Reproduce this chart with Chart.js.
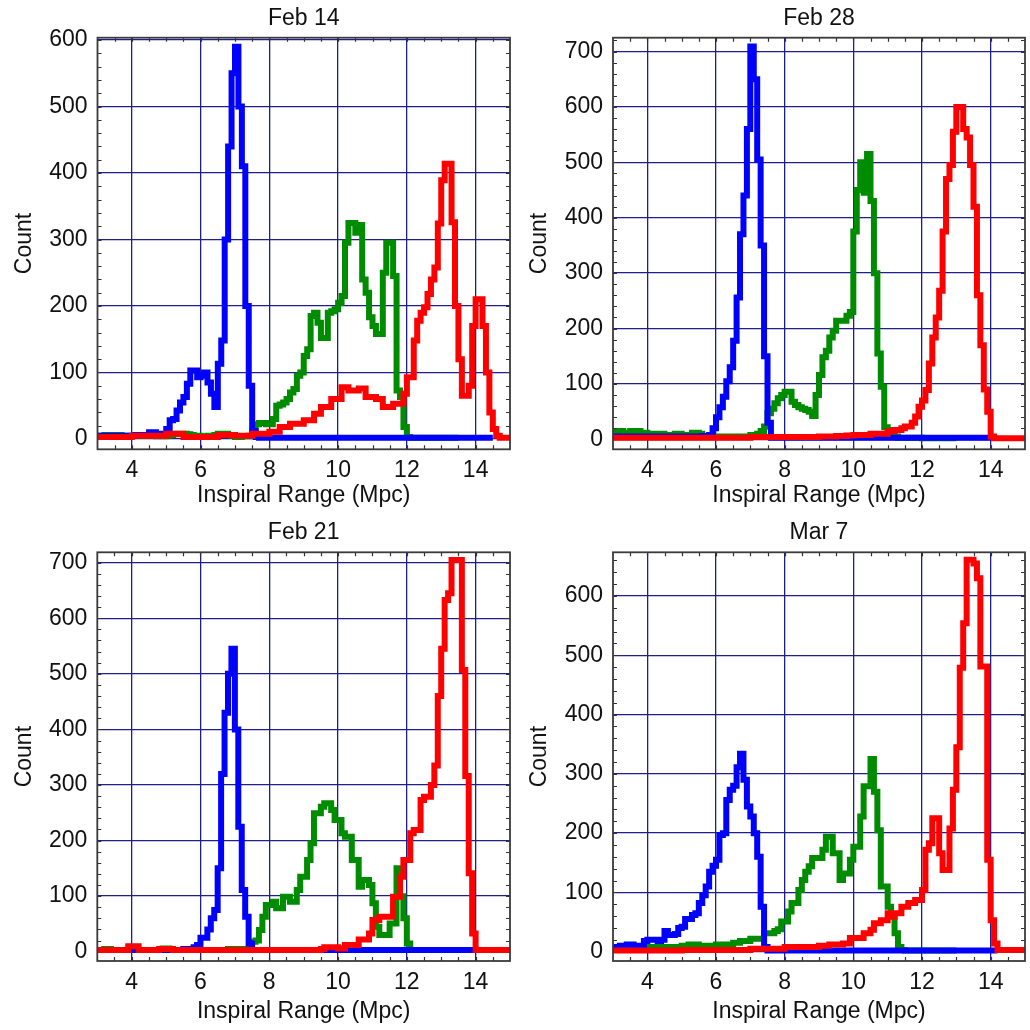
<!DOCTYPE html>
<html>
<head>
<meta charset="utf-8">
<title>Inspiral Range histograms</title>
<script src="https://cdn.jsdelivr.net/npm/chart.js@4.4.0/dist/chart.umd.min.js"></script>
<style>
  html, body { margin: 0; padding: 0; background: #fff; }
  #wrap { position: relative; width: 1030px; height: 1030px; }
  #wrap canvas { position: absolute; }
</style>
</head>
<body>
<div id="wrap">
  <canvas id="c0" width="515" height="515" style="left:0px;top:0px"></canvas>
  <canvas id="c1" width="515" height="515" style="left:515px;top:0px"></canvas>
  <canvas id="c2" width="515" height="515" style="left:0px;top:515px"></canvas>
  <canvas id="c3" width="515" height="515" style="left:515px;top:515px"></canvas>
</div>
<script>
// Histogram bins: 0.1 Mpc wide, first bin starts at 3.0 Mpc (one row below = 1 Mpc)
const binStart = 3;
const binWidth = 0.1;

const xTicks = [4, 6, 8, 10, 12, 14];
const yTicks600 = [0, 100, 200, 300, 400, 500, 600];
const yTicks700 = [0, 100, 200, 300, 400, 500, 600, 700];

const panelTitles = ['Feb 14', 'Feb 28', 'Feb 21', 'Mar 7'];
const yRanges = [[-15.5, 603.5], [-18, 725], [-16.7, 718.7], [-15.7, 673.7]];

// ---- Feb 14 ----
const feb14Blue = [
  5, 5, 5, 5, 5, 5, 5, 5, 5, 5,
  5, 6, 6, 6, 6, 10, 10, 8, 8, 6,
  15, 28, 30, 43, 55, 63, 83, 103, 103, 93,
  95, 100, 85, 68, 48, 113, 148, 300, 440, 550,
  590, 500, 410, 200, 80, 12, 3, 2, 2, 2,
  2, 2, 2, 2, 2, 2, 2, 2, 2, 2,
  2, 2, 2, 2, 2, 2, 2, 2, 2, 2,
  2, 2, 2, 2, 2, 2, 2, 2, 2, 2,
  2, 2, 2, 2, 2, 2, 2, 2, 2, 2,
  2, 2, 2, 2, 2, 2, 2, 2, 2, 2,
  2, 2, 2, 2, 2, 2, 2, 2, 2, 2,
  2, 2, 2, 2, 2, null, null, null, null, null
];
const feb14Green = [
  5, 5, 6, 6, 6, 6, 6, 5, 5, 5,
  5, 5, 5, 5, 5, 5, 5, 4, 4, 4,
  5, 6, 7, 8, 8, 8, 7, 6, 5, 5,
  4, 4, 5, 5, 6, 8, 8, 8, 6, 5,
  3, 3, 4, 4, 5, 12, 22, 24, 24, 22,
  22, 30, 50, 52, 55, 60, 70, 75, 95, 100,
  125, 135, 185, 190, 175, 152, 152, 190, 192, 195,
  205, 215, 295, 325, 325, 310, 322, 240, 220, 183,
  170, 158, 158, 250, 295, 295, 245, 73, 63, 18,
  3, 2, 2, 2, 2, 2, 2, 2, 2, 2,
  2, 2, 2, 2, 2, null, null, null, null, null,
  null, null, null, null, null, null, null, null, null, null
];
const feb14Red = [
  3, 3, 3, 3, 3, 3, 3, 3, 3, 3,
  5, 5, 5, 5, 5, 5, 5, 5, 5, 5,
  8, 8, 8, 8, 8, 3, 3, 3, 3, 3,
  3, 3, 3, 3, 3, 6, 6, 6, 6, 6,
  5, 5, 5, 5, 5, 8, 8, 8, 8, 8,
  11, 11, 11, 18, 18, 18, 23, 23, 23, 23,
  28, 28, 28, 38, 38, 48, 48, 48, 60, 60,
  60, 78, 78, 73, 73, 73, 76, 76, 63, 63,
  63, 60, 60, 48, 48, 48, 53, 53, 53, 68,
  93, 93, 148, 178, 190, 198, 218, 240, 258, 324,
  389, 414, 414, 326, 200, 120, 65, 65, 80, 170,
  210, 210, 170, 100, 40, 15, 5, 2, 2, 2
];

// ---- Feb 28 ----
const feb28Blue = [
  5, 5, 5, 5, 5, 5, 5, 5, 5, 5,
  5, 5, 5, 5, 5, 5, 5, 5, 5, 5,
  5, 5, 5, 5, 5, 5, 6, 6, 8, 20,
  40, 58, 77, 105, 130, 178, 256, 370, 440, 560,
  709, 650, 505, 350, 150, 30, 3, 3, 3, 3,
  3, 3, 3, 3, 3, 3, 3, 3, 3, 3,
  3, 3, 3, 3, 3, 3, 3, 3, 3, 3,
  3, 3, 3, 3, 3, 3, 3, 3, 3, 3,
  3, 3, 3, 3, 3, 3, 3, 3, 3, 3,
  3, 3, 3, 3, 3, 3, 3, 3, 3, 3,
  3, 3, 3, 3, 3, 3, 3, 3, 3, 3,
  null, null, null, null, null, null, null, null, null, null
];
const feb28Green = [
  15, 15, 15, 12, 12, 15, 15, 15, 12, 12,
  10, 10, 10, 10, 10, 8, 8, 8, 10, 10,
  8, 8, 8, 12, 12, 10, 6, 6, 5, 5,
  5, 5, 5, 5, 5, 5, 5, 5, 5, 5,
  8, 8, 10, 15, 23, 47, 55, 65, 74, 80,
  86, 86, 68, 62, 58, 55, 53, 50, 42, 80,
  116, 148, 160, 184, 196, 214, 214, 214, 223, 230,
  375, 450, 500, 445, 515, 430, 300, 155, 95, 22,
  17, 8, 5, 3, 3, 3, 3, 3, 3, 3,
  2, 2, 2, 2, 2, 2, 2, 2, 2, 2,
  null, null, null, null, null, null, null, null, null, null,
  null, null, null, null, null, null, null, null, null, null
];
const feb28Red = [
  3, 3, 3, 3, 3, 3, 3, 3, 3, 3,
  3, 3, 3, 3, 3, 3, 3, 3, 3, 3,
  3, 3, 3, 3, 3, 3, 3, 3, 3, 3,
  3, 3, 3, 3, 3, 3, 3, 3, 3, 3,
  4, 4, 4, 4, 4, 4, 4, 4, 4, 4,
  4, 4, 4, 4, 4, 4, 4, 4, 4, 4,
  5, 5, 5, 5, 5, 6, 6, 6, 7, 7,
  8, 8, 8, 8, 8, 10, 10, 10, 10, 10,
  15, 15, 17, 17, 20, 23, 23, 30, 41, 59,
  70, 89, 137, 184, 220, 268, 375, 470, 495, 555,
  600, 600, 560, 545, 495, 420, 260, 170, 90, 50,
  5, 2, 2, 2, 2, 2, 2, 2, 2, 2
];

// ---- Feb 21 ----
const feb21Blue = [
  3, 3, 3, 3, 3, 3, 3, 3, 3, 3,
  3, 3, 3, 3, 3, 3, 3, 3, 3, 3,
  3, 3, 3, 3, 3, 5, 5, 5, 8, 12,
  25, 25, 40, 60, 75, 150, 320, 430, 500, 545,
  400, 225, 111, 63, 15, 3, 3, 3, 3, 3,
  3, 3, 3, 3, 3, 3, 3, 3, 3, 3,
  3, 3, 3, 3, 3, 3, 3, 3, 3, 3,
  3, 3, 3, 3, 3, 3, 3, 3, 3, 3,
  3, 3, 3, 3, 3, 3, 3, 3, 3, 3,
  3, 3, 3, 3, 3, 3, 3, 3, 3, 3,
  3, 3, 3, 3, 3, 3, 3, 3, 3, 3,
  3, 3, 3, 3, 3, 3, 3, 3, 3, 3
];
const feb21Green = [
  3, 3, 5, 5, 3, 3, 3, 3, 3, 3,
  3, 3, 3, 3, 3, 3, 3, 3, 3, 6,
  6, 5, 3, 3, 3, 3, 3, 3, 3, 3,
  3, 3, 3, 3, 3, 3, 3, 3, 5, 5,
  5, 5, 5, 5, 5, 18, 20, 39, 63, 84,
  84, 90, 78, 78, 99, 99, 90, 90, 111, 135,
  135, 165, 195, 249, 249, 261, 267, 267, 255, 237,
  237, 213, 207, 207, 165, 165, 117, 129, 129, 120,
  87, 45, 30, 30, 30, 51, 51, 150, 100, 60,
  15, 3, 3, 3, 3, 3, 3, 3, 3, 3,
  null, null, null, null, null, null, null, null, null, null,
  null, null, null, null, null, null, null, null, null, null
];
const feb21Red = [
  3, 3, 3, 3, 3, 3, 3, 3, 3, 10,
  10, 10, 3, 3, 3, 3, 3, 3, 5, 5,
  5, 5, 3, 3, 3, 3, 3, 3, 3, 3,
  3, 3, 3, 3, 3, 3, 3, 3, 3, 3,
  3, 3, 3, 3, 3, 3, 3, 3, 3, 3,
  3, 3, 3, 3, 3, 3, 3, 3, 3, 3,
  3, 3, 3, 3, 3, 5, 8, 8, 8, 8,
  6, 6, 12, 12, 12, 12, 22, 22, 22, 33,
  57, 57, 63, 63, 63, 63, 99, 99, 135, 165,
  165, 213, 219, 219, 273, 279, 279, 300, 335, 460,
  545, 633, 645, 705, 705, 705, 507, 316, 141, 33,
  3, 3, 3, 3, 3, 3, 3, 3, 3, 3
];

// ---- Mar 7 ----
const mar7Blue = [
  5, 8, 10, 10, 12, 12, 10, 8, 10, 18,
  20, 20, 20, 18, 20, 35, 28, 28, 30, 40,
  42, 55, 55, 62, 65, 82, 95, 110, 135, 145,
  155, 197, 200, 256, 273, 280, 311, 334, 290, 245,
  228, 200, 160, 76, 8, 2, 2, 2, 2, 2,
  2, 2, 2, 2, 2, 2, 2, 2, 2, 2,
  2, 2, 2, 2, 2, 2, 2, 2, 2, 2,
  2, 2, 2, 2, 2, 2, 2, 2, 2, 2,
  2, 2, 2, 2, 2, 2, 2, 2, 2, 2,
  2, 2, 2, 2, 2, 2, 2, 2, 2, 2,
  2, 2, 2, 2, 2, 2, 2, 2, 2, 2,
  2, 2, null, null, null, null, null, null, null, null
];
const mar7Green = [
  5, 5, 5, 5, 5, 5, 5, 5, 5, 5,
  8, 8, 8, 8, 8, 8, 8, 8, 8, 8,
  10, 10, 12, 12, 12, 10, 10, 10, 10, 10,
  12, 12, 12, 12, 12, 15, 15, 18, 18, 18,
  22, 22, 22, 22, 31, 31, 31, 35, 38, 51,
  51, 68, 82, 82, 104, 121, 135, 144, 158, 158,
  158, 172, 194, 194, 166, 166, 121, 132, 132, 155,
  177, 177, 228, 279, 279, 325, 270, 205, 110, 110,
  76, 60, 31, 8, 3, 2, 2, 2, 2, 2,
  2, 2, 2, 2, 2, 2, 2, 2, 2, 2,
  null, null, null, null, null, null, null, null, null, null,
  null, null, null, null, null, null, null, null, null, null
];
const mar7Red = [
  2, 2, 2, 2, 2, 2, 2, 2, 2, 2,
  2, 2, 2, 2, 2, 2, 2, 2, 2, 2,
  3, 3, 3, 3, 3, 3, 3, 3, 3, 3,
  3, 3, 3, 3, 3, 3, 3, 3, 3, 3,
  5, 5, 5, 5, 5, 5, 5, 5, 5, 5,
  8, 8, 8, 8, 8, 8, 8, 8, 8, 8,
  10, 10, 10, 12, 12, 12, 12, 14, 14, 23,
  23, 23, 23, 31, 31, 37, 48, 48, 53, 53,
  65, 59, 65, 65, 76, 76, 82, 82, 87, 87,
  104, 172, 183, 225, 225, 166, 138, 138, 208, 273,
  345, 479, 554, 661, 661, 655, 630, 481, 481, 155,
  53, 14, 3, 3, 3, 3, 3, 3, 3, 3
];

const seriesByPanel = [
  [feb14Blue, feb14Green, feb14Red],
  [feb28Blue, feb28Green, feb28Red],
  [feb21Blue, feb21Green, feb21Red],
  [mar7Blue, mar7Green, mar7Red]
];
const yTicksByPanel = [yTicks600, yTicks700, yTicks700, yTicks600];

// ---- look ----
const seriesColors = ['#0000ff', '#008c00', '#ff0000'];
const seriesOrder = [1, 2, 0];   // lower = drawn later: red on top, then blue, green underneath
const FONT = { family: "'Liberation Sans', Arial, sans-serif", size: 23, weight: 'normal', lineHeight: 1.2 };
const LH = FONT.size * FONT.lineHeight;
const GRID_COLOR = '#1f1f8c';
const TEXT_COLOR = '#111';

// Screen positions of each panel (canvas origin, plot box, text centres)
const boxes = [
  { cx: 0,   cy: 0,   left: 97.5, right: 510,  top: 37.7,  bottom: 449.3, titleY: 18.3,  xTitleY: 496,  yTitleX: 24.7 },
  { cx: 515, cy: 0,   left: 613,  right: 1025, top: 37.7,  bottom: 449.3, titleY: 18.3,  xTitleY: 496,  yTitleX: 540 },
  { cx: 0,   cy: 515, left: 97.3, right: 510,  top: 552.3, bottom: 961,   titleY: 532.5, xTitleY: 1012, yTitleX: 24.7 },
  { cx: 515, cy: 515, left: 613,  right: 1025, top: 552.3, bottom: 961,   titleY: 532.5, xTitleY: 1012, yTitleX: 540 }
];

function toSteps(counts) {
  const pts = [];
  let last = 0;
  counts.forEach((c, i) => {
    if (c === null) return;
    pts.push({ x: binStart + i * binWidth, y: c });
    last = i;
  });
  // close the last bin on its right edge
  pts.push({ x: binStart + (last + 1) * binWidth, y: counts[last] });
  return pts;
}

// frame round the plot plus the small inward minor ticks
const framePlugin = {
  id: 'frame',
  afterDraw(chart) {
    const { ctx, chartArea: a, scales: { x, y } } = chart;
    ctx.save();
    ctx.strokeStyle = '#333';
    ctx.lineWidth = 1.2;
    ctx.beginPath();
    for (let v = 3.5; v < 15; v += 0.5) {
      const px = Math.round(x.getPixelForValue(v)) + 0.5;
      ctx.moveTo(px, a.bottom); ctx.lineTo(px, a.bottom - 4);
      ctx.moveTo(px, a.top); ctx.lineTo(px, a.top + 4);
    }
    for (let v = 20; v < y.max; v += 20) {
      const py = Math.round(y.getPixelForValue(v)) + 0.5;
      ctx.moveTo(a.left, py); ctx.lineTo(a.left + 4, py);
      ctx.moveTo(a.right, py); ctx.lineTo(a.right - 4, py);
    }
    ctx.stroke();
    ctx.lineWidth = 1.8;
    ctx.strokeStyle = '#3a3a3a';
    ctx.strokeRect(a.left, a.top, a.right - a.left, a.bottom - a.top);
    ctx.restore();
  }
};

function makeChart(idx) {
  const box = boxes[idx];
  const [blue, green, red] = seriesByPanel[idx];
  const yTicks = yTicksByPanel[idx];
  const [yMin, yMax] = yRanges[idx];

  const datasets = [blue, green, red].map((counts, k) => ({
    data: toSteps(counts),
    borderColor: seriesColors[k],
    borderWidth: 6,
    borderJoinStyle: 'miter',
    pointRadius: 0,
    stepped: true,
    fill: false,
    tension: 0,
    order: seriesOrder[k]
  }));

  return new Chart(document.getElementById('c' + idx), {
    type: 'line',
    data: { datasets },
    options: {
      responsive: false,
      animation: false,
      events: [],
      layout: { padding: { left: 0, top: 0, bottom: 0, right: box.cx + 515 - box.right } },
      plugins: {
        legend: { display: false },
        tooltip: { enabled: false },
        title: {
          display: true,
          fullSize: false,
          text: panelTitles[idx],
          color: TEXT_COLOR,
          font: FONT,
          padding: { top: box.titleY - box.cy - LH / 2, bottom: box.top - box.titleY - LH / 2 }
        }
      },
      scales: {
        x: {
          type: 'linear',
          min: 3,
          max: 15,
          afterBuildTicks: s => { s.ticks = xTicks.map(v => ({ value: v })); },
          afterFit: s => { s.height = box.cy + 515 - box.bottom; },
          grid: { color: GRID_COLOR, lineWidth: 1.3, drawTicks: false },
          border: { display: false },
          ticks: { color: TEXT_COLOR, font: FONT, padding: 8, maxRotation: 0, autoSkip: false },
          title: {
            display: true,
            text: 'Inspiral Range (Mpc)',
            color: TEXT_COLOR,
            font: FONT,
            padding: { top: 0, bottom: box.cy + 515 - box.xTitleY - LH / 2 }
          }
        },
        y: {
          type: 'linear',
          min: yMin,
          max: yMax,
          afterBuildTicks: s => { s.ticks = yTicks.map(v => ({ value: v })); },
          afterFit: s => { s.width = box.left - box.cx; },
          grid: { color: GRID_COLOR, lineWidth: 1.3, drawTicks: false },
          border: { display: false },
          ticks: { color: TEXT_COLOR, font: FONT, padding: 10 },
          title: {
            display: true,
            text: 'Count',
            color: TEXT_COLOR,
            font: FONT,
            padding: { top: box.yTitleX - box.cx - LH / 2, bottom: 0 }
          }
        }
      }
    },
    plugins: [framePlugin]
  });
}

[0, 1, 2, 3].forEach(makeChart);
</script>
</body>
</html>
